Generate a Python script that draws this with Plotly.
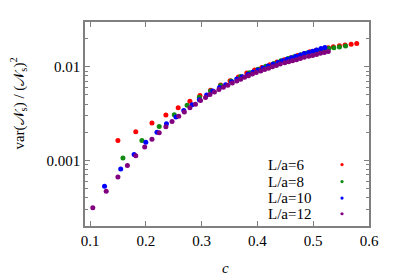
import plotly.graph_objects as go

# ---- data ----
labels = ["L/a=6", "L/a=8", "L/a=10", "L/a=12"]
colors = ["#ff0000", "#128a12", "#0000ff", "#800080"]

c_L6 = [0.150, 0.182, 0.211, 0.236, 0.258, 0.279, 0.297, 0.316, 0.334, 0.351,
        0.366, 0.381, 0.395, 0.408, 0.422, 0.435, 0.448, 0.460, 0.472, 0.484,
        0.494, 0.505, 0.516, 0.527, 0.536, 0.547, 0.557, 0.568, 0.578]
v_L6 = [0.00163, 0.00203, 0.00251, 0.00305, 0.00365, 0.00429, 0.00493, 0.00561, 0.0064, 0.00710,
        0.00778, 0.00857, 0.00923, 0.00983, 0.0105, 0.0112, 0.0119, 0.0125, 0.0132, 0.0138,
        0.0144, 0.0150, 0.0154, 0.0159, 0.0163, 0.0167, 0.0170, 0.0174, 0.0177]

c_L8 = [0.159, 0.193, 0.224, 0.251, 0.274, 0.296, 0.316, 0.334, 0.353, 0.370,
        0.386, 0.401, 0.415, 0.429, 0.442, 0.455, 0.466, 0.478, 0.489, 0.500,
        0.509, 0.519, 0.528, 0.537, 0.547, 0.558]
v_L8 = [0.00106, 0.00163, 0.00231, 0.00308, 0.00389, 0.00473, 0.00552, 0.00629, 0.00705, 0.00787,
        0.00864, 0.00941, 0.0101, 0.0108, 0.0116, 0.0122, 0.0128, 0.0134, 0.0140, 0.0145,
        0.0150, 0.0153, 0.0156, 0.0159, 0.0162, 0.0166]

c_L10 = [0.126, 0.155, 0.179, 0.200, 0.220, 0.237, 0.254, 0.268, 0.283, 0.296,
         0.309, 0.320, 0.332, 0.343, 0.354, 0.363, 0.373, 0.383, 0.392, 0.401,
         0.410, 0.419, 0.428, 0.437, 0.445, 0.453, 0.461, 0.469, 0.477, 0.484,
         0.492, 0.499, 0.506, 0.514, 0.521]
v_L10 = [0.000530, 0.000809, 0.00116, 0.00156, 0.00200, 0.00247, 0.00290, 0.00342, 0.00393, 0.00443,
         0.00499, 0.00550, 0.00599, 0.00644, 0.00693, 0.00741, 0.00783, 0.00833, 0.00879, 0.00925,
         0.00971, 0.0102, 0.0106, 0.0111, 0.0116, 0.0120, 0.0125, 0.0129, 0.0133, 0.0138,
         0.0142, 0.0146, 0.0151, 0.0156, 0.0160]

c_L12 = [0.105, 0.129, 0.150, 0.167, 0.182, 0.198, 0.211, 0.224, 0.236, 0.247,
         0.259, 0.269, 0.279, 0.289, 0.298, 0.307, 0.315, 0.323, 0.331, 0.339,
         0.347, 0.355, 0.363, 0.370, 0.377, 0.384, 0.391, 0.398, 0.406, 0.413,
         0.420, 0.427, 0.434, 0.441, 0.449, 0.456, 0.463, 0.470, 0.477, 0.484,
         0.492, 0.499, 0.506, 0.513, 0.520, 0.527]
v_L12 = [0.000314, 0.000469, 0.000665, 0.000885, 0.00112, 0.00139, 0.00168, 0.00198, 0.00229, 0.00261,
         0.00297, 0.00328, 0.00365, 0.00398, 0.00436, 0.00469, 0.00505, 0.00537, 0.00570, 0.00603,
         0.00636, 0.00672, 0.00705, 0.00737, 0.00770, 0.00803, 0.00837, 0.00868, 0.00900, 0.00934,
         0.00966, 0.0100, 0.0103, 0.0107, 0.0110, 0.0113, 0.0116, 0.0119, 0.0122, 0.0126,
         0.0129, 0.0132, 0.0135, 0.0139, 0.0142, 0.0145]

x_ticks = [0.1, 0.2, 0.3, 0.4, 0.5, 0.6]
x_ticktext = ["0.1", "0.2", "0.3", "0.4", "0.5", "0.6"]
y_ticks = [0.001, 0.01]
y_ticktext = ["0.001", "0.01"]
y_minor = [0.0002, 0.0003, 0.0004, 0.0005, 0.0006, 0.0007, 0.0008, 0.0009,
           0.002, 0.003, 0.004, 0.005, 0.006, 0.007, 0.008, 0.009, 0.02, 0.03]

series_c = [c_L6, c_L8, c_L10, c_L12]
series_v = [v_L6, v_L8, v_L10, v_L12]

FONT = "Times New Roman, Liberation Serif, serif"
AX = "#808080"

fig = go.Figure()
for name, col, cs, vs in zip(labels, colors, series_c, series_v):
    fig.add_trace(go.Scatter(x=cs, y=vs, mode="markers", name=name,
                             marker=dict(color=col, size=5, line=dict(width=0)),
                             showlegend=False))

# page has an 8px body margin: figure is 391x271 so the plot area lands at x 85-369, y 20-226
fig.update_layout(
    width=391, height=271,
    margin=dict(l=77, r=30, t=12, b=53),
    paper_bgcolor="white", plot_bgcolor="white",
    font=dict(family=FONT, size=15, color="black"),
)
fig.update_xaxes(range=[0.091, 0.6], tickmode="array", tickvals=x_ticks, ticktext=x_ticktext,
                 ticks="inside", ticklen=5, tickcolor=AX, tickwidth=1,
                 showline=True, linecolor=AX, linewidth=1.5, mirror="ticks",
                 showgrid=False, zeroline=False,
                 tickfont=dict(family=FONT, size=15, color="black"))
fig.update_yaxes(type="log", range=[-3.699, -1.523], tickmode="array", tickvals=y_ticks,
                 ticktext=y_ticktext,
                 ticks="inside", ticklen=5, tickcolor=AX, tickwidth=1,
                 minor=dict(tickmode="array", tickvals=y_minor, ticks="inside", ticklen=3,
                            tickcolor=AX, showgrid=False),
                 showline=True, linecolor=AX, linewidth=1.5, mirror="ticks",
                 showgrid=False, zeroline=False,
                 tickfont=dict(family=FONT, size=15, color="black"))

# axis titles
fig.add_annotation(text="var(𝒩<sub>s</sub>) / (𝒩<sub>s</sub>)<sup>2</sup>",
                   xref="paper", yref="paper", x=-0.236, y=0.60, textangle=-90,
                   showarrow=False, xanchor="center", yanchor="middle",
                   font=dict(family=FONT, size=15, color="black"))
fig.add_annotation(text="<i>c</i>", xref="paper", yref="paper", x=0.493, y=-0.204,
                   showarrow=False, xanchor="center", yanchor="middle",
                   font=dict(family=FONT, size=15, color="black"))

# legend (text left, sample right)
leg_y = [0.301, 0.218, 0.137, 0.060]
for name, col, yy in zip(labels, colors, leg_y):
    fig.add_annotation(text=name, xref="paper", yref="paper", x=0.636, y=yy,
                       showarrow=False, xanchor="left", yanchor="middle",
                       font=dict(family=FONT, size=15, color="black"))
    fig.add_shape(type="circle", xref="paper", yref="paper",
                  xsizemode="pixel", ysizemode="pixel", xanchor=0.905, yanchor=yy,
                  x0=-1.6, x1=1.6, y0=-1.6, y1=1.6,
                  fillcolor=col, line=dict(width=0))

fig.write_html("out.html")
